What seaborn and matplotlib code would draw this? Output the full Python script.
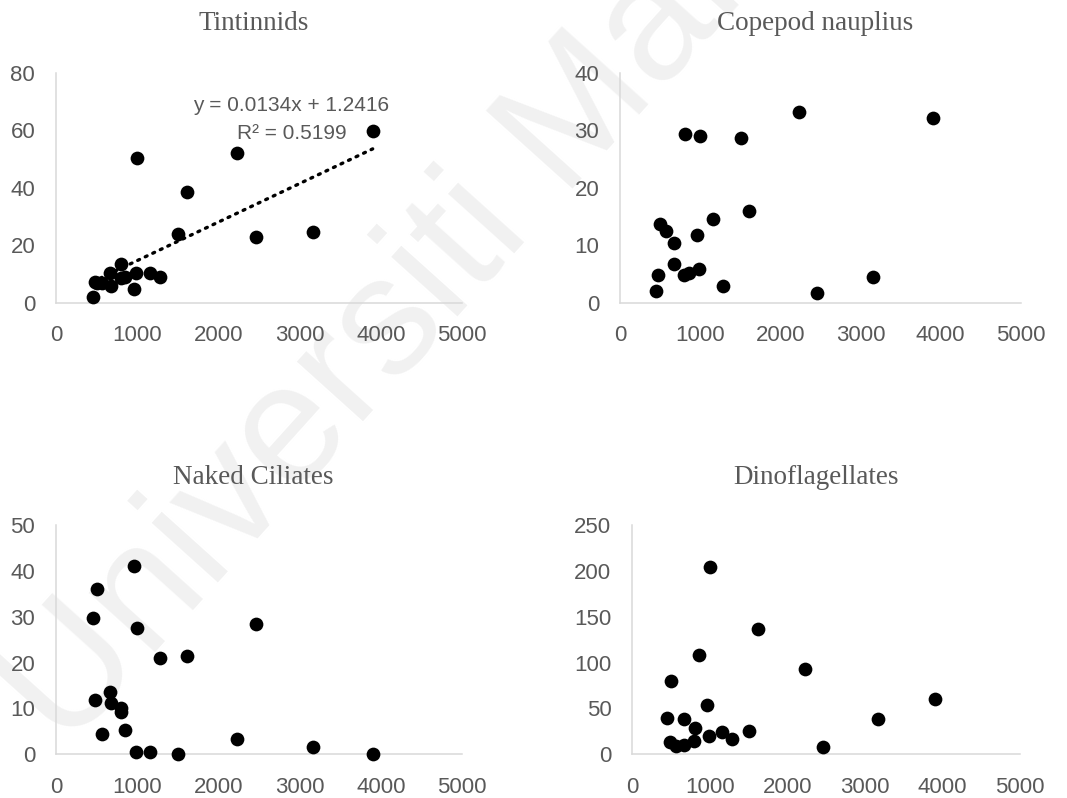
import numpy as np
import pandas as pd
import matplotlib
matplotlib.use("Agg")
import matplotlib.pyplot as plt
import seaborn as sns

# same samples on the x axis in all four panels
x_vals = [450, 480, 500, 570, 668, 672, 795, 805, 855, 958,
          985, 997, 1162, 1282, 1508, 1615, 2230, 2460, 3163, 3900]

tintinnids = [2.1, 7.3, 7.0, 6.7, 10.2, 5.8, 13.3, 8.5, 9.0, 4.6,
              10.4, 50.2, 10.4, 9.0, 23.9, 38.6, 51.9, 22.7, 24.5, 59.7]
copepod = [2.0, 4.9, 13.7, 12.5, 10.3, 6.8, 4.9, 29.3, 5.2, 11.7,
           5.9, 29.0, 14.6, 2.9, 28.7, 15.9, 33.2, 1.6, 4.5, 32.2]
naked_ciliates = [29.7, 11.8, 36.0, 4.5, 13.5, 11.1, 10.0, 9.3, 5.3, 41.1,
                  0.4, 27.5, 0.6, 21.1, 0.1, 21.5, 3.3, 28.4, 1.5, 0.0]
dinoflagellates = [40.0, 13.1, 80.3, 9.1, 9.8, 38.5, 14.5, 28.3, 108.3, 53.8,
                   20.3, 203.9, 24.0, 16.7, 25.4, 136.3, 92.7, 8.4, 38.9, 60.7]

# Excel linear trendline shown on the Tintinnids panel
trend_slope = 0.0134
trend_intercept = 1.2416
trend_r2 = 0.5199

titles = ["Tintinnids", "Copepod nauplius", "Naked Ciliates", "Dinoflagellates"]
y_max = [80, 40, 50, 250]
y_step = [20, 10, 10, 50]
x_ticks = [0, 1000, 2000, 3000, 4000, 5000]

W, H = 1067, 798
GREY = "#595959"

sns.set_style("white")
plt.rcParams["font.family"] = ["Liberation Sans", "DejaVu Sans"]

fig = plt.figure(figsize=(W / 100, H / 100), dpi=100)

# faint watermark behind everything
fig.text(66 / W, 1 - 752 / H, "Universiti Malaya", rotation=48,
         rotation_mode="anchor", ha="left", va="baseline",
         fontsize=122, color="#f1f1f1", zorder=-5)


def px_axes(left, right, top, bottom):
    return fig.add_axes([left / W, 1 - bottom / H, (right - left) / W, (bottom - top) / H])


boxes = [(56, 462, 72.7, 302.7), (620, 1020.7, 72.7, 302.7),
         (56, 462, 525, 754.3), (632.3, 1020, 525, 754.3)]
title_pos = [(254, 23), (815, 23), (253, 477), (816, 477)]
series = [tintinnids, copepod, naked_ciliates, dinoflagellates]

for i in range(4):
    ax = px_axes(*boxes[i])
    ax.patch.set_alpha(0)
    df = pd.DataFrame({"x": x_vals, "y": series[i]})
    sns.scatterplot(data=df, x="x", y="y", ax=ax, color="black", s=98,
                    edgecolor="black", linewidth=0, clip_on=False, zorder=3)

    ax.set_xlim(0, 5000)
    ax.set_ylim(0, y_max[i])
    ax.set_xticks(x_ticks)
    ax.set_yticks(np.arange(0, y_max[i] + 1, y_step[i]))
    ax.set_xlabel("")
    ax.set_ylabel("")
    ax.tick_params(axis="both", length=0, labelsize=16, labelcolor=GREY)
    ax.tick_params(axis="y", pad=15)
    ax.tick_params(axis="x", pad=16)
    for side in ["top", "right"]:
        ax.spines[side].set_visible(False)
    for side in ["left", "bottom"]:
        ax.spines[side].set_color("#d9d9d9")
        ax.spines[side].set_linewidth(1.1)

    fig.text(title_pos[i][0] / W, 1 - title_pos[i][1] / H, titles[i],
             ha="center", va="center", fontsize=19.5, color=GREY,
             family=["Liberation Serif", "DejaVu Serif"])

    if i == 0:
        xf = np.array([min(x_vals), max(x_vals)])
        yf = trend_slope * xf + trend_intercept
        ax.plot(xf, yf, color="black", lw=2.4, linestyle=(0, (0.6, 1.9)),
                dash_capstyle="round", zorder=4)
        ax.text(2900, 63.6,
                f"y = {trend_slope}x + {trend_intercept}\nR² = {trend_r2}",
                ha="center", va="center", fontsize=15, color=GREY,
                linespacing=1.6)

fig.savefig("out.png", dpi=100)
